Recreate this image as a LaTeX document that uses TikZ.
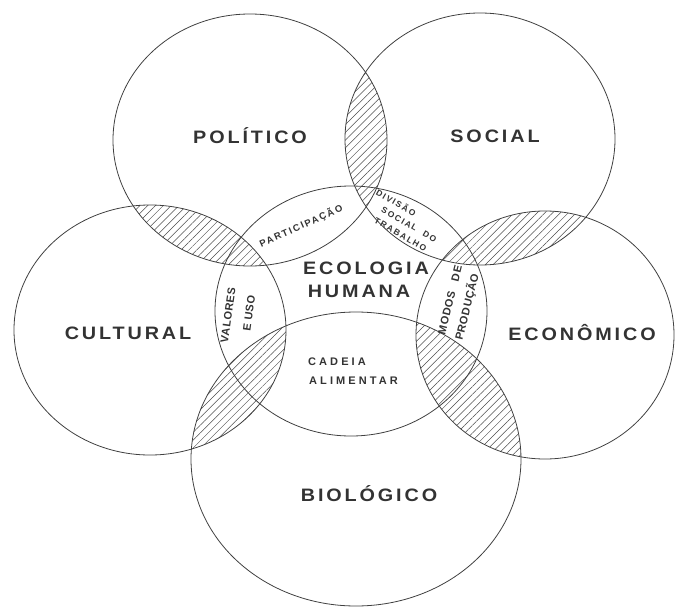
\documentclass[tikz,border=0pt]{standalone}
\usepackage{fontspec}
\setmainfont{Liberation Sans}
\usetikzlibrary{patterns.meta}
\tikzset{
  ring/.style={draw=black!75, line width=0.8pt},
  hatch/.style={pattern={Lines[angle=45,distance=5.5pt,line width=0.5pt]}, pattern color=black!70},
  biglabel/.style={font=\fontsize{18}{20}\selectfont\bfseries\addfontfeatures{LetterSpace=16,FakeStretch=1.1}, text=black!80, inner sep=0pt},
  midlabel/.style={font=\fontsize{11}{13}\selectfont\bfseries\addfontfeatures{LetterSpace=28}, text=black!80, inner sep=0pt},
  smalllabel/.style={font=\fontsize{9.5}{11}\selectfont\bfseries\addfontfeatures{LetterSpace=18}, text=black!80, inner sep=0pt},
  tinylabel/.style={font=\fontsize{8.5}{10}\selectfont\bfseries\addfontfeatures{LetterSpace=18}, text=black!80, inner sep=0pt},
  vlabel/.style={font=\fontsize{11}{12}\selectfont\bfseries\addfontfeatures{LetterSpace=5}, text=black!80, inner sep=0pt},
}
\def\Pol{(250,140) ellipse [x radius=137pt, y radius=126pt]}
\def\Soc{(480,139) ellipse [x radius=135pt, y radius=126pt]}
\def\Cul{(150,330) ellipse [x radius=136pt, y radius=125pt]}
\def\Eco{(545,335) ellipse [x radius=129pt, y radius=124pt]}
\def\Bio{(356,459) ellipse [x radius=165pt, y radius=147pt]}
\def\Cen{(351,311) ellipse [x radius=136pt, y radius=125pt]}
\begin{document}
\begin{tikzpicture}[x=1pt,y=-1pt]
\useasboundingbox (0,0) rectangle (680,610);
% hatched lenses between neighbouring outer circles
\begin{scope}\clip \Pol; \fill[hatch] \Soc; \end{scope}
\begin{scope}\clip \Pol; \fill[hatch] \Cul; \end{scope}
\begin{scope}\clip \Soc; \fill[hatch] \Eco; \end{scope}
\begin{scope}\clip \Cul; \fill[hatch] \Bio; \end{scope}
\begin{scope}\clip \Eco; \fill[hatch] \Bio; \end{scope}
% circles
\draw[ring] \Pol;
\draw[ring] \Soc;
\draw[ring] \Cul;
\draw[ring] \Eco;
\draw[ring] \Bio;
\draw[ring] \Cen;
% main labels
\node[biglabel] (pol) at (250,136) {POLÍTICO};
\node[biglabel] (soc) at (495,136) {SOCIAL};
\node[biglabel] (cul) at (128,333) {CULTURAL};
\node[biglabel] (eco) at (582,333) {ECONÔMICO};
\node[biglabel] (bio) at (369,494) {BIOLÓGICO};
\node[biglabel] (ecol) at (366,268) {ECOLOGIA};
\node[biglabel] (hum) at (359,291) {HUMANA};
% inner labels
\node[midlabel, anchor=west] (cad) at (308,362) {CADEIA};
\node[midlabel, anchor=west] (ali) at (309,381) {ALIMENTAR};
\node[smalllabel, rotate=24] (part) at (301,226) {PARTICIPAÇÃO};
\node[tinylabel, rotate=-30, anchor=west] (div) at (377,191) {DIVISÃO};
\node[tinylabel, rotate=-30, anchor=west] (socd) at (382,209) {SOCIAL\hspace{8pt}DO};
\node[tinylabel, rotate=-30, anchor=west] (trab) at (375,220) {TRABALHO};
\node[vlabel, rotate=82] (val) at (228,315) {VALORES};
\node[vlabel, rotate=82] (uso) at (249,313) {E USO};
\node[vlabel, rotate=76] (mod) at (450,300) {MODOS\hspace{11pt}DE};
\node[vlabel, rotate=76] (prod) at (467,307) {PRODUÇÃO};
\end{tikzpicture}
\end{document}
